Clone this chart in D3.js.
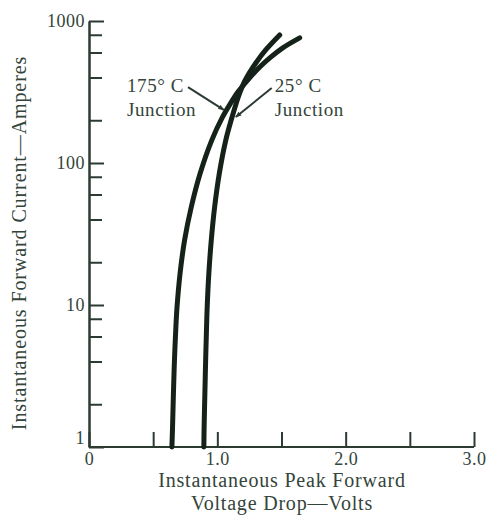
<!DOCTYPE HTML>
<html>

<head>
  <title>Forward voltage drop</title>
  <meta charset="UTF-8">
</head>
<script src="https://d3js.org/d3.v7.min.js"></script>
<style>
  body {
    margin: 0;
    background: white
  }

  svg text {
    font-family: "Liberation Serif", "DejaVu Serif", serif;
    fill: #33443a
  }

  .axis path,
  .axis line {
    stroke: #2c3b31;
    stroke-width: 2px
  }

  .curve {
    fill: none;
    stroke: #15221a;
    stroke-width: 5px;
    stroke-linecap: round
  }

  .leader {
    stroke: #2c3b31;
    stroke-width: 2px
  }
</style>

<body>
  <svg width="486" height="516"></svg>
</body>
<script>

  // curves (volts, amperes)
  var hotVolts = [0.646, 0.651, 0.658, 0.666, 0.677, 0.686, 0.710, 0.745, 0.797, 0.867, 0.957, 1.041, 1.105, 1.160, 1.237, 1.331, 1.409, 1.510, 1.642]
  var hotAmps = [1, 1.38, 2.4, 4.1, 7, 9.7, 16.8, 28.7, 49, 85, 145, 211, 265, 316, 384, 474, 550, 647, 761]

  var coldVolts = [0.895, 0.897, 0.903, 0.909, 0.916, 0.921, 0.934, 0.953, 0.979, 1.016, 1.066, 1.115, 1.148, 1.177, 1.218, 1.300, 1.377, 1.486]
  var coldAmps = [1, 1.38, 2.4, 4.1, 7, 9.7, 16.8, 28.7, 49, 85, 145, 211, 265, 316, 384, 506, 625, 797]

  var xTicks = [0, 0.5, 1, 1.5, 2, 2.5, 3]
  var xLabels = { 0: "0", 1: "1.0", 2: "2.0", 3: "3.0" }
  var yMajor = [1, 10, 100, 1000]
  var yMinor = [2, 4, 6, 8, 20, 40, 60, 80, 200, 400, 600, 800]

  // label text and where the leader line touches the curve
  var notes = [
    { lines: ["175° C", "Junction"], v: 0.296, i: 316, tipV: 1.05, tipI: 237, dx: 61, dy: -5 },
    { lines: ["25° C", "Junction"], v: 1.447, i: 316, tipV: 1.144, tipI: 211, dx: -3, dy: -4 }
  ]

  var svg = d3.select("svg")

  var x = d3.scaleLinear().domain([0, 3]).range([89, 474])
  var y = d3.scaleLog().domain([1, 1000]).range([447, 21])

  svg.append("defs").append("marker")
    .attr("id", "tip")
    .attr("viewBox", "0 0 10 10")
    .attr("refX", 9).attr("refY", 5)
    .attr("markerWidth", 3).attr("markerHeight", 3)
    .attr("orient", "auto")
    .append("path")
    .attr("d", "M0,1L10,5L0,9Z")
    .attr("fill", "#2c3b31")

  var xAxis = svg.append("g")
    .attr("class", "axis")
    .attr("transform", "translate(0," + y(1) + ")")
    .call(d3.axisBottom(x).tickValues(xTicks).tickSizeInner(-15).tickSizeOuter(0).tickPadding(5)
      .tickFormat(function(d) { return xLabels[d] || "" }))

  xAxis.select(".domain").attr("d", "M" + x(0) + ",0H" + x(3))
  xAxis.selectAll("text").style("font-size", "18px").style("letter-spacing", "0.5px")

  svg.append("g")
    .attr("class", "axis")
    .attr("transform", "translate(" + x(0) + ",0)")
    .call(d3.axisLeft(y).tickValues(yMinor).tickSizeInner(-13).tickSizeOuter(0).tickFormat(""))

  var yAxis = svg.append("g")
    .attr("class", "axis")
    .attr("transform", "translate(" + x(0) + ",0)")
    .call(d3.axisLeft(y).tickValues(yMajor).tickSizeInner(-15).tickSizeOuter(0).tickPadding(4)
      .tickFormat(d3.format("d")))

  yAxis.selectAll("text")
    .style("font-size", "18px")
    .style("letter-spacing", "0.5px")
    .attr("dy", function(d) { return d == 1 ? "-0.2em" : "0.32em" })

  var line = d3.line()
    .x(function(d) { return x(d[0]) })
    .y(function(d) { return y(d[1]) })
    .curve(d3.curveCatmullRom.alpha(0.5))

  svg.append("path").attr("class", "curve").attr("d", line(d3.zip(hotVolts, hotAmps)))
  svg.append("path").attr("class", "curve").attr("d", line(d3.zip(coldVolts, coldAmps)))

  notes.forEach(function(n) {
    var t = svg.append("text")
      .attr("x", x(n.v))
      .attr("y", y(n.i))
      .style("font-size", "19px")
      .style("letter-spacing", "0.6px")
    t.selectAll("tspan")
      .data(n.lines)
      .enter().append("tspan")
      .attr("x", x(n.v))
      .attr("dy", function(d, i) { return i == 0 ? 0 : 24 })
      .text(function(d) { return d })

    svg.append("line").attr("class", "leader")
      .attr("x1", x(n.v) + n.dx).attr("y1", y(n.i) + n.dy)
      .attr("x2", x(n.tipV)).attr("y2", y(n.tipI))
      .attr("marker-end", "url(#tip)")
  })

  svg.append("text")
    .attr("transform", "translate(26,243) rotate(-90)")
    .attr("text-anchor", "middle")
    .style("font-size", "20px")
    .style("letter-spacing", "0.9px")
    .text("Instantaneous Forward Current—Amperes")

  var xTitle = svg.append("text")
    .attr("text-anchor", "middle")
    .style("font-size", "20px")
    .style("letter-spacing", "0.8px")
  xTitle.append("tspan").attr("x", 282).attr("y", 487).text("Instantaneous Peak Forward")
  xTitle.append("tspan").attr("x", 282).attr("y", 510).text("Voltage Drop—Volts")
</script>

</html>
